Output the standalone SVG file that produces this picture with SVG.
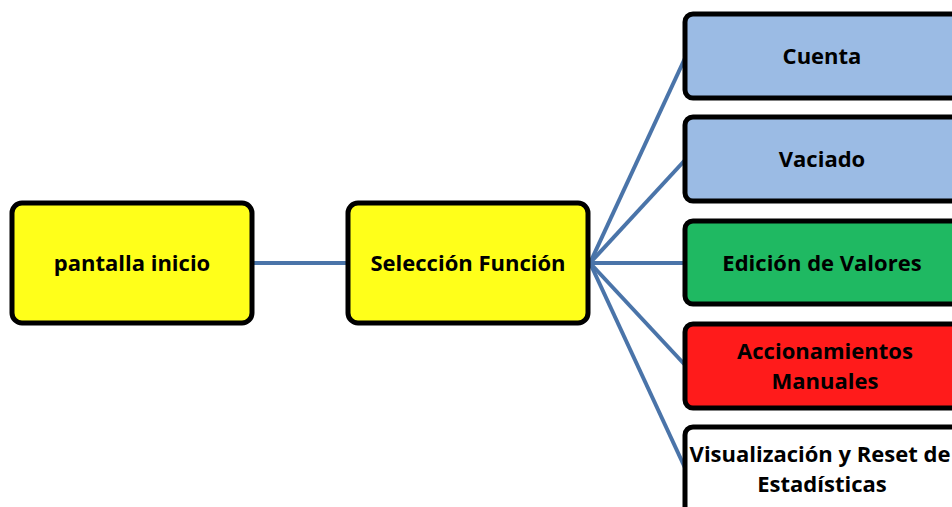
<svg xmlns="http://www.w3.org/2000/svg" width="952" height="507" viewBox="0 0 952 507">
  <style>
    .box { stroke: #000; stroke-width: 5; }
    .lbl { font-family: "Open Sans", "Liberation Sans", Arial, sans-serif; font-weight: bold; font-size: 22px; fill: #000; text-anchor: middle; }
    .conn { stroke: #4a74a9; stroke-width: 4; fill: none; }
  </style>
  <rect width="952" height="507" fill="#fff"/>
  <g id="connectors">
    <line class="conn" x1="252" y1="263" x2="348" y2="263"/>
    <line class="conn" x1="590" y1="263" x2="686" y2="56"/>
    <line class="conn" x1="590" y1="263" x2="686" y2="159"/>
    <line class="conn" x1="590" y1="263" x2="686" y2="263"/>
    <line class="conn" x1="590" y1="263" x2="686" y2="366"/>
    <line class="conn" x1="590" y1="263" x2="686" y2="470"/>
  </g>
  <g id="pantalla-inicio">
    <rect class="box" x="12" y="203" width="240" height="120" rx="10" fill="#ffff1a"/>
    <text class="lbl" x="132" y="271">pantalla inicio</text>
  </g>
  <g id="seleccion-funcion">
    <rect class="box" x="348" y="203" width="240" height="120" rx="10" fill="#ffff1a"/>
    <text class="lbl" x="468" y="271">Selección Función</text>
  </g>
  <g id="cuenta">
    <rect class="box" x="685" y="14" width="280" height="84" rx="8" fill="#9bbbe4"/>
    <text class="lbl" x="822" y="64">Cuenta</text>
  </g>
  <g id="vaciado">
    <rect class="box" x="685" y="117" width="280" height="84" rx="8" fill="#9bbbe4"/>
    <text class="lbl" x="822" y="167">Vaciado</text>
  </g>
  <g id="edicion-valores">
    <rect class="box" x="685" y="221" width="280" height="83" rx="8" fill="#1fb962"/>
    <text class="lbl" x="822" y="271">Edición de Valores</text>
  </g>
  <g id="accionamientos-manuales">
    <rect class="box" x="685" y="324" width="280" height="84" rx="8" fill="#ff1b1b"/>
    <text class="lbl" x="825" y="359">Accionamientos</text>
    <text class="lbl" x="825" y="389">Manuales</text>
  </g>
  <g id="visualizacion-estadisticas">
    <rect class="box" x="685" y="427" width="280" height="100" rx="8" fill="#fff"/>
    <text class="lbl" x="820" y="462">Visualización y Reset de</text>
    <text class="lbl" x="822" y="492">Estadísticas</text>
  </g>
</svg>
